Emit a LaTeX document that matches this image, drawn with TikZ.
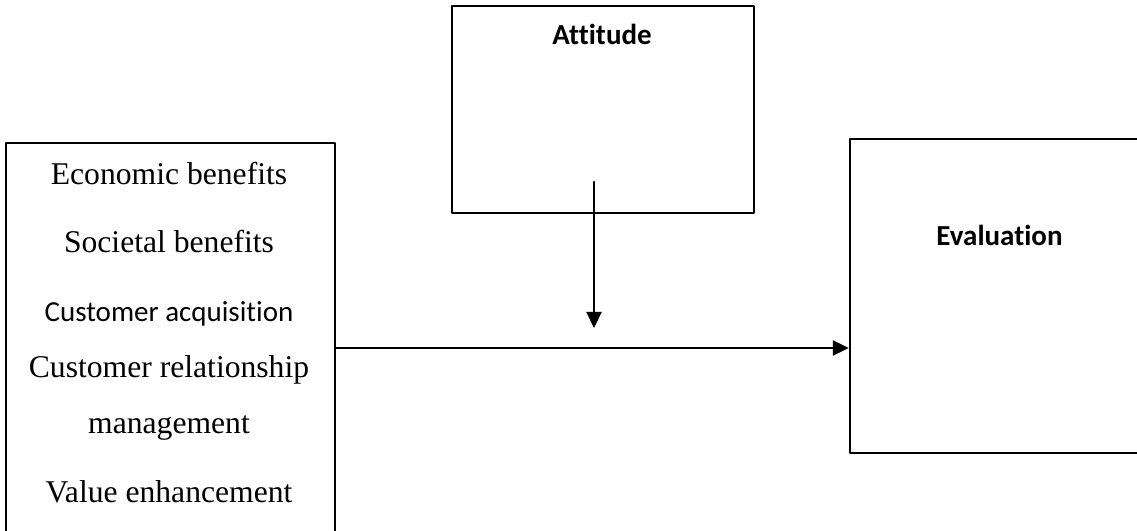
\documentclass[tikz,border=0pt]{standalone}
\usepackage{fontspec}
\setmainfont{Liberation Serif}
\newfontfamily\carlito[Ligatures={NoCommon}]{Carlito}
\usetikzlibrary{arrows.meta}

\begin{document}
\begin{tikzpicture}[line cap=round,line join=round,>={Triangle[length=0.32cm,width=0.3cm]},x=1.0cm,y=1.0cm,
		box/.style={draw,rectangle,line width=1.4pt,line cap=butt,inner sep=0pt},
		link/.style={->,line width=1.3pt},
		item/.style={anchor=base,font=\fontsize{18}{21}\selectfont},
		head/.style={anchor=base,font=\carlito\bfseries\fontsize{16.5}{20}\selectfont}]
			\useasboundingbox (0.,0.) rectangle (22.74,10.62);
			\clip(0.,0.) rectangle (22.74,10.62);
			\node [box,minimum width=6.58cm,minimum height=8.2cm] (factors) at (3.41,3.66) {};
			\node [box,minimum width=6.04cm,minimum height=4.14cm] (attitude) at (12.06,8.43) {};
			\node [box,minimum width=6.0cm,minimum height=6.28cm] (evaluation) at (20.,4.7) {};
			\coordinate (drop) at (11.88,6.98);
			\coordinate (hit) at (11.88,4.06);
			\draw [link] (factors.east)-- (evaluation.west |- factors.east);
			\draw [link] (drop)-- (hit);
			\node [item] (economic) at (3.38,6.92) {Economic benefits};
			\node [item] (societal) at (3.38,5.566) {Societal benefits};
			\node [item,font=\carlito\fontsize{16.5}{20}\selectfont] (acquisition) at (3.38,4.186) {Customer acquisition};
			\node [item] (relationship) at (3.38,3.06) {Customer relationship};
			\node [item] (management) at (3.38,1.94) {management};
			\node [item] (value) at (3.38,0.56) {Value enhancement};
			\node [head] (attitudetext) at (12.04,9.72) {Attitude};
			\node [head] (evaluationtext) at (19.99,5.706) {Evaluation};
		\end{tikzpicture}
\end{document}
